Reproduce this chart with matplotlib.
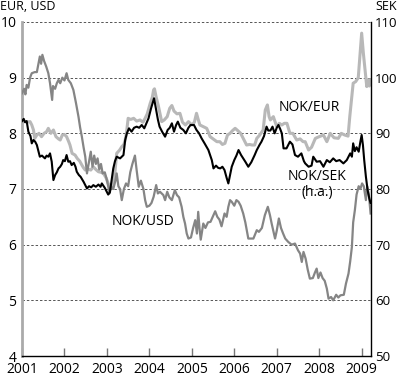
import matplotlib.pyplot as plt

plt.rcParams['font.family'] = ['Open Sans', 'DejaVu Sans']

# NOK/USD, left axis
usd_t = [2001.00, 2001.05, 2001.08, 2001.11, 2001.15, 2001.19, 2001.23, 2001.30, 2001.35, 2001.40,
         2001.42, 2001.45, 2001.48, 2001.52, 2001.57, 2001.62, 2001.66, 2001.71, 2001.73, 2001.78,
         2001.82, 2001.86, 2001.90, 2001.95, 2002.00, 2002.05, 2002.09, 2002.15, 2002.21, 2002.27,
         2002.33, 2002.37, 2002.41, 2002.45, 2002.49, 2002.53, 2002.57, 2002.62, 2002.66, 2002.70,
         2002.74, 2002.78, 2002.82, 2002.86, 2002.90, 2002.95, 2003.00, 2003.03, 2003.06, 2003.10,
         2003.15, 2003.20, 2003.23, 2003.27, 2003.31, 2003.35, 2003.40, 2003.45, 2003.50, 2003.55,
         2003.60, 2003.66, 2003.70, 2003.75, 2003.80, 2003.86, 2003.90, 2003.94, 2004.00, 2004.05,
         2004.10, 2004.16, 2004.20, 2004.25, 2004.33, 2004.37, 2004.42, 2004.47, 2004.53, 2004.60,
         2004.65, 2004.70, 2004.76, 2004.80, 2004.84, 2004.88, 2004.92, 2004.98, 2005.03, 2005.08,
         2005.12, 2005.15, 2005.18, 2005.21, 2005.27, 2005.32, 2005.38, 2005.44, 2005.51, 2005.55,
         2005.60, 2005.65, 2005.70, 2005.77, 2005.82, 2005.86, 2005.90, 2005.94, 2006.00, 2006.05,
         2006.10, 2006.15, 2006.21, 2006.26, 2006.33, 2006.40, 2006.45, 2006.53, 2006.58, 2006.65,
         2006.72, 2006.79, 2006.84, 2006.88, 2006.96, 2007.00, 2007.05, 2007.10, 2007.15, 2007.20,
         2007.27, 2007.35, 2007.43, 2007.50, 2007.55, 2007.59, 2007.63, 2007.68, 2007.73, 2007.78,
         2007.85, 2007.90, 2007.94, 2007.98, 2008.03, 2008.08, 2008.13, 2008.18, 2008.22, 2008.28,
         2008.33, 2008.40, 2008.45, 2008.50, 2008.58, 2008.63, 2008.69, 2008.73, 2008.77, 2008.80,
         2008.84, 2008.88, 2008.93, 2008.97, 2009.01, 2009.05, 2009.10, 2009.13, 2009.17, 2009.21]
usd_v = [8.72, 8.80, 8.70, 8.87, 8.82, 9.00, 9.08, 9.10, 9.10, 9.30,
         9.38, 9.25, 9.41, 9.30, 9.20, 9.08, 8.90, 8.60, 8.85, 8.80,
         8.90, 8.96, 8.90, 9.00, 8.95, 9.08, 8.96, 8.90, 8.78, 8.55,
         8.30, 8.10, 7.94, 7.75, 7.58, 7.28, 7.45, 7.67, 7.40, 7.60,
         7.45, 7.55, 7.35, 7.45, 7.28, 7.30, 7.16, 7.05, 6.92, 7.05,
         7.00, 7.15, 7.28, 7.05, 7.00, 6.80, 7.00, 7.10, 7.05, 7.30,
         7.45, 7.60, 7.34, 7.04, 7.15, 7.00, 6.80, 6.68, 6.70, 6.75,
         6.86, 7.07, 6.92, 6.95, 6.89, 6.80, 6.95, 6.85, 6.80, 6.98,
         6.89, 6.85, 6.68, 6.50, 6.38, 6.20, 6.11, 6.13, 6.30, 6.44,
         6.20, 6.59, 6.30, 6.09, 6.38, 6.30, 6.40, 6.41, 6.53, 6.60,
         6.50, 6.45, 6.33, 6.56, 6.50, 6.68, 6.80, 6.77, 6.70, 6.80,
         6.77, 6.70, 6.56, 6.40, 6.11, 6.11, 6.11, 6.26, 6.23, 6.30,
         6.53, 6.68, 6.53, 6.38, 6.11, 6.25, 6.47, 6.30, 6.20, 6.11,
         6.05, 6.00, 6.02, 5.90, 5.84, 5.69, 5.87, 5.75, 5.55, 5.39,
         5.40, 5.50, 5.57, 5.40, 5.50, 5.40, 5.35, 5.21, 5.03, 5.06,
         5.00, 5.10, 5.05, 5.09, 5.10, 5.30, 5.48, 5.70, 5.96, 6.40,
         6.62, 6.90, 7.05, 7.00, 7.10, 7.05, 6.80, 7.05, 6.90, 6.56]

# NOK/EUR, left axis
eur_t = [2001.00, 2001.05, 2001.10, 2001.19, 2001.23, 2001.27, 2001.30, 2001.35, 2001.40, 2001.46,
         2001.52, 2001.58, 2001.62, 2001.68, 2001.74, 2001.80, 2001.86, 2001.90, 2001.95, 2002.00,
         2002.05, 2002.10, 2002.13, 2002.18, 2002.25, 2002.30, 2002.36, 2002.41, 2002.45, 2002.49,
         2002.55, 2002.62, 2002.68, 2002.74, 2002.80, 2002.86, 2002.92, 2002.98, 2003.03, 2003.08,
         2003.14, 2003.19, 2003.23, 2003.30, 2003.35, 2003.40, 2003.43, 2003.46, 2003.50, 2003.56,
         2003.63, 2003.70, 2003.78, 2003.85, 2003.90, 2003.95, 2004.02, 2004.07, 2004.10, 2004.12,
         2004.16, 2004.21, 2004.25, 2004.29, 2004.35, 2004.42, 2004.48, 2004.53, 2004.58, 2004.65,
         2004.72, 2004.78, 2004.85, 2004.92, 2005.00, 2005.06, 2005.11, 2005.15, 2005.19, 2005.27,
         2005.35, 2005.40, 2005.43, 2005.50, 2005.59, 2005.66, 2005.72, 2005.78, 2005.84, 2005.90,
         2005.96, 2006.02, 2006.08, 2006.15, 2006.21, 2006.29, 2006.36, 2006.42, 2006.48, 2006.53,
         2006.60, 2006.68, 2006.73, 2006.78, 2006.82, 2006.85, 2006.92, 2007.00, 2007.06, 2007.12,
         2007.18, 2007.24, 2007.31, 2007.38, 2007.47, 2007.55, 2007.62, 2007.67, 2007.75, 2007.82,
         2007.91, 2008.00, 2008.10, 2008.18, 2008.26, 2008.35, 2008.45, 2008.52, 2008.60, 2008.68,
         2008.72, 2008.76, 2008.80, 2008.86, 2008.92, 2008.96, 2009.00, 2009.04, 2009.08, 2009.12,
         2009.15, 2009.18, 2009.21]
eur_v = [8.27, 8.22, 8.20, 8.21, 8.15, 8.06, 7.91, 7.97, 8.00, 7.94,
         8.00, 8.03, 8.09, 8.00, 8.06, 7.94, 7.90, 7.88, 7.97, 7.98,
         7.94, 7.85, 7.79, 7.64, 7.61, 7.55, 7.50, 7.43, 7.38, 7.34,
         7.36, 7.34, 7.40, 7.35, 7.31, 7.30, 7.28, 7.20, 7.10, 7.04,
         7.10, 7.31, 7.64, 7.70, 7.76, 7.80, 7.88, 8.00, 8.27, 8.25,
         8.27, 8.22, 8.24, 8.20, 8.27, 8.35, 8.54, 8.65, 8.78, 8.80,
         8.65, 8.50, 8.35, 8.21, 8.24, 8.30, 8.45, 8.50, 8.40, 8.35,
         8.36, 8.20, 8.15, 8.21, 8.15, 8.20, 8.36, 8.25, 8.15, 8.12,
         8.09, 8.00, 7.94, 7.90, 7.85, 7.85, 7.80, 7.82, 7.97, 8.00,
         8.05, 8.09, 8.05, 8.00, 7.91, 7.79, 7.80, 7.79, 7.79, 7.91,
         7.97, 8.06, 8.42, 8.51, 8.30, 8.24, 8.30, 8.12, 8.18, 8.15,
         8.18, 8.18, 8.00, 8.00, 7.88, 7.90, 7.85, 7.85, 7.70, 7.75,
         7.91, 7.94, 7.97, 7.85, 8.00, 7.92, 7.91, 8.00, 7.97, 7.95,
         8.30, 8.60, 8.90, 8.93, 9.00, 9.40, 9.80, 9.44, 9.14, 8.84,
         8.96, 8.85, 8.96]

# NOK/SEK, right axis (values in SEK index, 50-110)
sek_t = [2001.00, 2001.04, 2001.07, 2001.11, 2001.15, 2001.20, 2001.23, 2001.27, 2001.31, 2001.35,
         2001.38, 2001.42, 2001.47, 2001.54, 2001.58, 2001.62, 2001.66, 2001.70, 2001.74, 2001.78,
         2001.82, 2001.86, 2001.90, 2001.94, 2001.97, 2002.01, 2002.05, 2002.09, 2002.13, 2002.17,
         2002.22, 2002.26, 2002.29, 2002.34, 2002.38, 2002.45, 2002.53, 2002.58, 2002.63, 2002.68,
         2002.74, 2002.80, 2002.85, 2002.88, 2002.95, 2003.03, 2003.07, 2003.11, 2003.15, 2003.19,
         2003.23, 2003.31, 2003.39, 2003.43, 2003.47, 2003.52, 2003.58, 2003.64, 2003.70, 2003.76,
         2003.82, 2003.88, 2003.94, 2003.98, 2004.04, 2004.11, 2004.16, 2004.20, 2004.24, 2004.30,
         2004.37, 2004.43, 2004.48, 2004.53, 2004.58, 2004.63, 2004.67, 2004.73, 2004.80, 2004.86,
         2004.92, 2004.97, 2005.05, 2005.11, 2005.17, 2005.23, 2005.30, 2005.39, 2005.47, 2005.51,
         2005.57, 2005.62, 2005.67, 2005.72, 2005.77, 2005.82, 2005.86, 2005.90, 2005.94, 2006.00,
         2006.05, 2006.10, 2006.16, 2006.21, 2006.26, 2006.33, 2006.40, 2006.48, 2006.53, 2006.60,
         2006.64, 2006.70, 2006.76, 2006.80, 2006.85, 2006.90, 2006.95, 2007.00, 2007.04, 2007.08,
         2007.12, 2007.16, 2007.23, 2007.31, 2007.37, 2007.43, 2007.50, 2007.58, 2007.64, 2007.67,
         2007.75, 2007.82, 2007.86, 2007.94, 2008.02, 2008.10, 2008.18, 2008.25, 2008.33, 2008.40,
         2008.48, 2008.57, 2008.65, 2008.73, 2008.77, 2008.80, 2008.84, 2008.88, 2008.93, 2008.97,
         2009.00, 2009.03, 2009.06, 2009.10, 2009.14, 2009.18, 2009.21]
sek_v = [92.2, 92.6, 92.0, 92.2, 90.3, 89.5, 88.2, 88.8, 88.5, 87.9,
         87.0, 85.8, 86.0, 85.5, 86.0, 85.8, 86.4, 84.9, 81.6, 82.5,
         83.0, 83.7, 84.0, 84.5, 85.2, 85.0, 86.1, 84.9, 85.0, 84.3,
         84.7, 84.0, 83.1, 82.5, 82.2, 81.3, 80.1, 80.5, 80.3, 80.7,
         80.4, 80.8, 80.4, 81.0, 80.2, 79.0, 79.4, 81.5, 83.7, 85.0,
         85.8, 85.5, 86.1, 88.8, 90.0, 90.9, 90.3, 91.0, 91.2, 91.0,
         91.5, 90.9, 92.0, 92.7, 94.5, 96.3, 94.2, 92.5, 91.2, 90.3,
         89.4, 90.6, 91.0, 91.8, 90.3, 91.5, 92.1, 91.0, 90.6, 90.0,
         91.0, 91.5, 91.5, 90.6, 90.0, 89.1, 88.2, 87.0, 85.2, 83.7,
         84.2, 83.8, 83.7, 84.0, 83.4, 82.0, 81.0, 82.5, 84.0, 85.2,
         86.0, 87.0, 86.1, 85.5, 84.9, 84.0, 84.8, 86.1, 87.0, 88.0,
         88.5, 89.5, 91.2, 90.5, 90.5, 91.2, 90.0, 91.0, 91.5, 90.8,
         90.0, 87.3, 87.3, 88.5, 88.0, 86.1, 85.8, 86.4, 85.0, 84.6,
         84.0, 84.2, 85.8, 84.9, 85.0, 84.0, 85.2, 84.8, 85.5, 85.0,
         85.2, 84.6, 85.2, 86.4, 85.8, 88.2, 86.8, 87.5, 86.7, 88.5,
         89.7, 87.9, 85.2, 82.2, 79.8, 78.3, 77.5]

years = list(range(2001, 2010))
left_ticks = [4, 5, 6, 7, 8, 9, 10]
right_ticks = [50, 60, 70, 80, 90, 100, 110]

fig = plt.figure(figsize=(4.0, 3.78), dpi=100)
ax = fig.add_axes([0.055, 0.0582, 0.8725, 0.8836])
ax2 = ax.twinx()

ax.set_xlim(2001, 2009.22)
ax.set_ylim(4, 10)
ax2.set_ylim(50, 110)

# dashed grid
for v in [5, 6, 7, 8, 9, 10]:
    ax.axhline(v, color='#555555', lw=0.7, ls=(0, (2.5, 2)), zorder=1)

ax.plot(eur_t, eur_v, color='#b8b8b8', lw=2.2, zorder=3)
ax.plot(usd_t, usd_v, color='#858585', lw=1.6, zorder=4)
ax2.plot(sek_t, sek_v, color='black', lw=1.5, zorder=5)

ax.set_xticks(years)
ax.set_xticklabels([str(y) for y in years], fontsize=10)
ax.tick_params(axis='x', direction='in', length=6, width=1, color='#777777', pad=4)
ax.set_yticks(left_ticks)
ax.set_yticklabels([str(v) for v in left_ticks], fontsize=10)
ax.tick_params(axis='y', length=0, pad=4)
ax2.set_yticks(right_ticks)
ax2.set_yticklabels([str(v) for v in right_ticks], fontsize=9.5)
ax2.tick_params(axis='y', length=0, pad=3)

for a in (ax, ax2):
    for s in ['top', 'left', 'right', 'bottom']:
        a.spines[s].set_visible(False)
ax.spines['left'].set_visible(True)
ax.spines['left'].set_color('#aaaaaa')
ax.spines['left'].set_linewidth(2)
ax2.spines['right'].set_visible(True)
ax2.spines['right'].set_color('black')
ax2.spines['right'].set_linewidth(1)
ax.spines['bottom'].set_visible(True)
ax.spines['bottom'].set_color('black')
ax.spines['bottom'].set_linewidth(1)

ax.text(2007.76, 8.47, 'NOK/EUR', fontsize=10, ha='center', va='center', zorder=6)
ax.text(2007.95, 7.08, 'NOK/SEK\n(h.a.)', fontsize=10, ha='center', va='center',
        linespacing=1.1, zorder=6)
ax.text(2003.84, 6.41, 'NOK/USD', fontsize=10, ha='center', va='center', zorder=6)

fig.text(0.0, 0.982, 'EUR, USD', fontsize=9, ha='left', va='center')
fig.text(0.9375, 0.982, 'SEK', fontsize=9, ha='left', va='center')

fig.savefig('out.png', dpi=100)
